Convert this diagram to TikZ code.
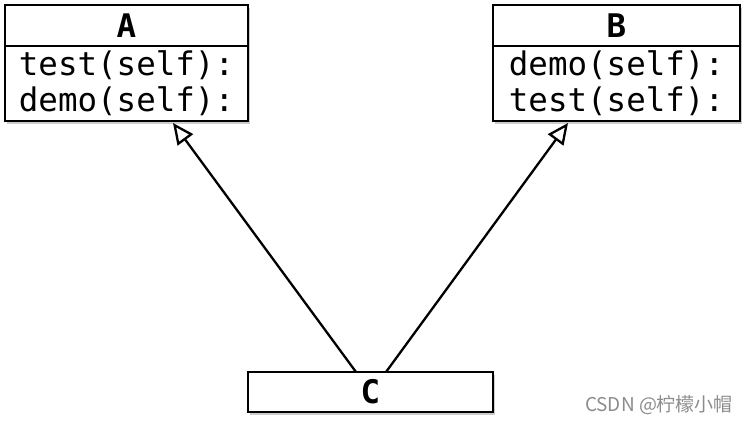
\documentclass[tikz,border=0pt]{standalone}
\usepackage{fontspec}
\setmonofont{DejaVu Sans Mono}
\newfontfamily\cjk{Noto Sans CJK SC}
\usetikzlibrary{arrows.meta,shadows}

\begin{document}
\begin{tikzpicture}[x=1pt,y=-1pt]
		\useasboundingbox (0,0) rectangle (750,423);
		\begin{scope}[every node/.style={rectangle,draw,line width=2.8pt,fill=white,inner sep=0pt,
		              font=\ttfamily\fontsize{32.5}{36}\selectfont,
		              drop shadow={shadow xshift=2pt,shadow yshift=-3pt,opacity=0.4}}]
		    \node (A) at (126.5,25.5) [minimum width=243pt,minimum height=41pt] {\bfseries A};
		    \node (Abody) at (126.5,83.5) [minimum width=243pt,minimum height=75pt,align=left] {test(self):\\demo(self):};
		    \node (B) at (616.5,25.5) [minimum width=247pt,minimum height=41pt] {\bfseries B};
		    \node (Bbody) at (616.5,83.5) [minimum width=247pt,minimum height=75pt,align=left] {demo(self):\\test(self):};
		    \node (C) at (370.5,392) [minimum width=245pt,minimum height=40pt] {\bfseries C};
		\end{scope}
		
		\coordinate (ca) at (356,372);
		\coordinate (cb) at (386,372);
		\coordinate (at) at (173,123);
		\coordinate (bt) at (568,123);
		
		\begin{scope}[>={Triangle[open,length=21pt,width=19pt]},
		              every edge/.style={draw=black,line width=2.3pt}]
		    	\path (ca) edge[->] (at);
		    	\path (cb) edge[->] (bt);
		\end{scope}
		
		\node (mark) at (659,405) [text=black!45,font=\cjk\fontsize{19}{19}\selectfont] {CSDN @柠檬小帽};
		\end{tikzpicture}
\end{document}
